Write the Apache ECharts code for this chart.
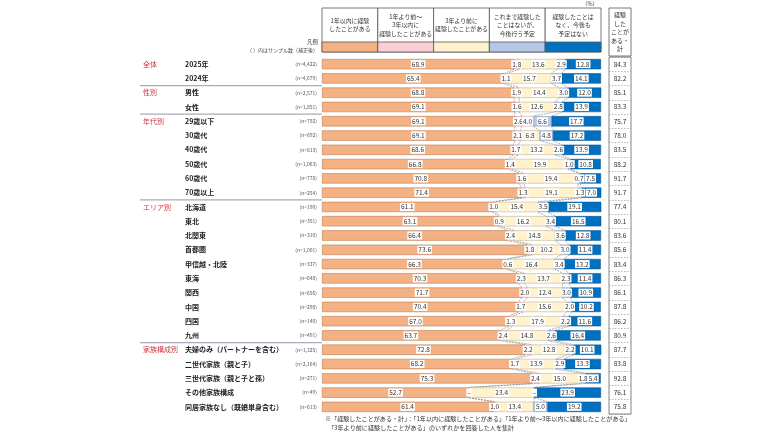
<!DOCTYPE html>
<html><head><meta charset="utf-8">
<script src="https://cdn.jsdelivr.net/npm/echarts@6/dist/echarts.min.js"></script>
<style>html,body{margin:0;padding:0;background:#fff}#c{width:770px;height:433px}</style>
</head><body><div id="c"></div>
<script>
const categories = ['2025年','2024年','男性','女性','29歳以下','30歳代','40歳代','50歳代','60歳代','70歳以上','北海道','東北','北関東','首都圏','甲信越・北陸','東海','関西','中国','四国','九州','夫婦のみ（パートナーを含む）','二世代家族（親と子）','三世代家族（親と子と孫）','その他家族構成','同居家族なし（既婚単身含む）'];
const sampleSizes = ['(n=4,422)','(n=4,679)','(n=2,571)','(n=1,851)','(n=792)','(n=692)','(n=813)','(n=1,063)','(n=778)','(n=254)','(n=190)','(n=351)','(n=310)','(n=1,001)','(n=337)','(n=648)','(n=656)','(n=298)','(n=140)','(n=491)','(n=1,325)','(n=2,164)','(n=271)','(n=49)','(n=613)'];
const groupLabels = ['全体','','性別','','年代別','','','','','','エリア別','','','','','','','','','','家族構成別','','','',''];
const seriesNames = ['1年以内に経験\nしたことがある','1年より前～\n3年以内に\n経験したことがある','3年より前に\n経験したことがある','これまで経験した\nことはないが、\n今後行う予定','経験したことは\nなく、今後も\n予定はない'];
const s1 = [68.9,65.4,68.8,69.1,69.1,69.1,68.6,66.8,70.8,71.4,61.1,63.1,66.4,73.6,66.3,70.3,71.7,70.4,67.0,63.7,72.8,68.2,75.3,52.7,61.4];
const s2 = [1.8,1.1,1.9,1.6,2.6,2.1,1.7,1.4,1.6,1.3,1.0,0.9,2.4,1.8,0.6,2.3,2.0,1.7,1.3,2.4,2.2,1.7,2.4,0,1.0];
const s3 = [13.6,15.7,14.4,12.6,4.0,6.8,13.2,19.9,19.4,19.1,15.4,16.2,14.8,10.2,16.4,13.7,12.4,15.6,17.9,14.8,12.8,13.9,15.0,23.4,13.4];
const s4 = [2.9,3.7,3.0,2.8,6.6,4.8,2.6,1.0,0.7,1.3,3.5,3.4,3.6,3.0,3.4,2.3,3.0,2.0,2.2,2.6,2.2,2.9,1.8,0,5.0];
const s5 = [12.8,14.1,12.0,13.9,17.7,17.2,13.9,10.8,7.5,7.0,19.1,16.5,12.8,11.4,13.2,11.4,10.9,10.2,11.6,16.4,10.1,13.3,5.4,23.9,19.2];
const totals = [84.3,82.2,85.1,83.3,75.7,78.0,83.5,88.2,91.7,91.7,77.4,80.1,83.6,85.6,83.4,86.3,86.1,87.8,86.2,80.9,87.7,83.8,92.8,76.1,75.8];

const colors = ['#F4B183','#FBCFD6','#FFF2CC','#B4C7E7','#0070C0'];
const borders = ['#B07040','#C0909A','#B0A890','#8090B0','#004A80'];
const FONT = '"Noto Sans CJK JP", "Noto Sans", sans-serif';
const G = {left:322, width:279, top:57, height:357};
const rowH = G.height / categories.length;
const allSeries = [s1,s2,s3,s4,s5];

const chart = echarts.init(document.getElementById('c'));

const barSeries = allSeries.map((arr,k)=>({
  name: seriesNames[k], type:'bar', stack:'a', barWidth:'72%',
  xAxisIndex:0, yAxisIndex:0,
  data: arr,
  itemStyle:{color:colors[k], borderColor:borders[k], borderWidth:0.5},
  label:{show:true, position:'inside', fontFamily:FONT, fontSize:6.5, color:'#333',
    backgroundColor:'#fff', padding:[0,1,0,1], lineHeight:8,
    formatter:p=> p.value===0 ? '–' : p.value.toFixed(1)}
}));

const connector = {
  type:'custom', xAxisIndex:0, yAxisIndex:0, z:1, silent:true,
  data: categories.slice(0,-1).map((c,i)=>[i]),
  renderItem:(params, api)=>{
    const i = api.value(0);
    const band = api.size([0,1])[1];
    const half = band*0.72/2;
    const children = [];
    let c1=0, c2=0;
    for (let k=0;k<4;k++){
      c1 += allSeries[k][i]; c2 += allSeries[k][i+1];
      const p1 = api.coord([c1, i]); const p2 = api.coord([c2, i+1]);
      children.push({type:'line', shape:{x1:p1[0], y1:p1[1]+half, x2:p2[0], y2:p2[1]-half},
        style:{stroke:'#777', lineWidth:0.6, lineDash:[2,1]}});
    }
    return {type:'group', children};
  }
};

const graphics = [];
const colW = G.width/5;
seriesNames.forEach((n,k)=>{
  const x = G.left + k*colW;
  graphics.push({type:'rect', shape:{x:x, y:8, width:colW, height:44}, style:{fill:'#fff', stroke:'#555', lineWidth:0.8}});
  graphics.push({type:'rect', shape:{x:x, y:42, width:colW, height:10}, style:{fill:colors[k], stroke:'#555', lineWidth:0.8}});
  graphics.push({type:'text', x:x+colW/2, y:25, style:{text:n, fontFamily:FONT, fontSize:5.9, lineHeight:8.5, fill:'#333', align:'center', verticalAlign:'middle'}});
});
graphics.push({type:'text', x:598, y:4, style:{text:'（%）', fontFamily:FONT, fontSize:5.5, fill:'#444', align:'right', verticalAlign:'middle'}});
graphics.push({type:'rect', shape:{x:609, y:8, width:22, height:48}, style:{fill:'#fff', stroke:'#555', lineWidth:0.8}});
graphics.push({type:'text', x:620, y:32, style:{text:'経験\nした\nことが\nある・\n計', fontFamily:FONT, fontSize:6, lineHeight:8.5, fill:'#333', align:'center', verticalAlign:'middle'}});
graphics.push({type:'text', x:318, y:42, style:{text:'凡例', fontFamily:FONT, fontSize:5.5, fill:'#444', align:'right', verticalAlign:'middle'}});
graphics.push({type:'text', x:318, y:50, style:{text:'（ ）内はサンプル数（補正後）', fontFamily:FONT, fontSize:5, fill:'#444', align:'right', verticalAlign:'middle'}});
groupLabels.forEach((g,i)=>{
  if (g && i>0){
    const y = G.top + i*rowH;
    graphics.push({type:'line', shape:{x1:140, y1:y, x2:G.left, y2:y}, style:{stroke:'#aab', lineWidth:1.2}});
  }
});
graphics.push({type:'text', x:325, y:419, style:{text:'※「経験したことがある・計」：「1年以内に経験したことがある」「1年より前～3年以内に経験したことがある」', fontFamily:FONT, fontSize:6.1, fill:'#333', align:'left', verticalAlign:'middle'}});
graphics.push({type:'text', x:328, y:428, style:{text:'「3年より前に経験したことがある」のいずれかを回答した人を集計', fontFamily:FONT, fontSize:6.1, fill:'#333', align:'left', verticalAlign:'middle'}});

const yBase = {type:'category', gridIndex:0, inverse:true, position:'left', offset:0,
  axisLine:{show:false}, axisTick:{show:false}, splitLine:{show:false}};

chart.setOption({
  animation:false,
  grid:[
    {left:G.left, width:G.width, top:G.top, height:G.height, containLabel:false},
    {left:609, width:22, top:G.top, height:G.height, show:true, borderColor:'#666', borderWidth:0.8, backgroundColor:'transparent'}
  ],
  xAxis:[
    {type:'value', gridIndex:0, min:0, max:100, show:false},
    {type:'value', gridIndex:1, min:0, max:1, show:false}
  ],
  yAxis:[
    Object.assign({}, yBase, {data:categories, axisLabel:{align:'left', margin:G.left-185, fontFamily:FONT, fontSize:7, fontWeight:'bold', color:'#222'}}),
    Object.assign({}, yBase, {data:sampleSizes, axisLabel:{align:'right', margin:5, fontFamily:FONT, fontSize:5, color:'#555'}}),
    Object.assign({}, yBase, {data:groupLabels, axisLabel:{align:'left', margin:G.left-143, fontFamily:FONT, fontSize:7, color:'#D0343C', interval:0}}),
    {type:'category', gridIndex:1, inverse:true, position:'right', data:totals.map(v=>v.toFixed(1)),
      axisLine:{show:false}, axisTick:{show:false},
      splitLine:{show:true, lineStyle:{color:'#888', type:[1.5,1.5], width:0.6}},
      axisLabel:{align:'center', margin:-11, fontFamily:FONT, fontSize:6.5, color:'#333', interval:0}}
  ],
  series:[...barSeries, connector],
  graphic: graphics
});
</script></body></html>
